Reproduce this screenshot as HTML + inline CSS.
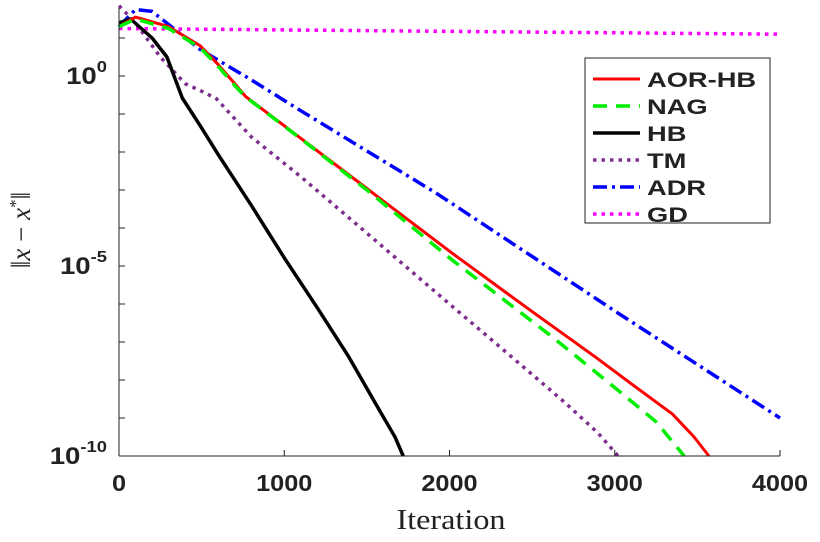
<!DOCTYPE html>
<html><head><meta charset="utf-8">
<style>
body{margin:0;background:#fff;}
svg{display:block;font-family:"Liberation Sans",sans-serif;}
</style></head>
<body>
<svg id="chart" width="820" height="542" viewBox="0 0 820 542">
<rect x="119" y="8" width="661" height="448" fill="#fff"/>
<g id="series"></g>
<g id="axes"></g>
<text transform="translate(451,529) scale(1.15,1)" x="0" y="0" font-family="'Liberation Serif',serif" font-size="28" text-anchor="middle" fill="#222">Iteration</text>
<text transform="translate(30,230) rotate(-90)" font-family="'Liberation Serif',serif" font-size="27" text-anchor="middle" fill="#222">‖<tspan font-style="italic">x</tspan> − <tspan font-style="italic">x</tspan><tspan dy="-9" font-size="17">*</tspan><tspan dy="9">‖</tspan></text>
<g id="legend"></g>
</svg>
<script>
const seriesNames=["AOR-HB","NAG","HB","TM","ADR","GD"];
const aorIt=[0,100,300,490,600,700,766,1100,1500,2015,2500,2884,3100,3350,3480,3570];
const aorVal=[1.3,1.55,1.3,0.8,0.3,-0.2,-0.54,-1.64,-2.96,-4.66,-6.2,-7.4,-8.1,-8.9,-9.5,-10];
const nagIt=[0,100,300,490,600,700,766,1100,1500,2015,2620,3000,3250,3420];
const nagVal=[1.3,1.5,1.25,0.75,0.25,-0.25,-0.55,-1.65,-3.0,-4.84,-6.86,-8.2,-9.1,-10];
const hbIt=[0,70,200,290,383,490,605,800,1008,1200,1392,1550,1670,1720];
const hbVal=[1.4,1.5,1.0,0.5,-0.58,-1.3,-2.1,-3.4,-4.84,-6.1,-7.4,-8.6,-9.5,-10];
const tmIt=[0,100,250,400,524,590,800,1100,1410,2000,2378,2700,2900,3020];
const tmVal=[1.85,1.4,0.5,-0.2,-0.45,-0.6,-1.6,-2.65,-3.8,-6.0,-7.4,-8.6,-9.4,-10];
const adrIt=[0,100,200,490,800,1095,1922,3006,4000];
const adrVal=[1.3,1.75,1.7,0.7,-0.1,-0.9,-3.09,-6.2,-9.0];
const gdIt=[0,4000];
const gdVal=[1.25,1.1];
const xTicks=[0,1000,2000,3000,4000];
const yTicks=[0,-5,-10];
const X0=119,X1=780,Y0dec=76,pxDec=38;
function xs(it){return X0+(X1-X0)*it/4000;}
function ys(l){return Y0dec-pxDec*l;}
const NS="http://www.w3.org/2000/svg";
function el(t,a,p){const e=document.createElementNS(NS,t);for(const k in a)e.setAttribute(k,a[k]);p.appendChild(e);return e;}
const styles=[
 {c:"#ff0000",w:3,d:""},
 {c:"#00ee00",w:3.5,d:"14 9"},
 {c:"#000",w:3.5,d:""},
 {c:"#7e2f8e",w:3.5,d:"3.5 5"},
 {c:"#0000ff",w:3.5,d:"14 5 3 5"},
 {c:"#ff00ff",w:3.5,d:"3.5 5"}];
const data=[[aorIt,aorVal],[nagIt,nagVal],[hbIt,hbVal],[tmIt,tmVal],[adrIt,adrVal],[gdIt,gdVal]];
const sg=document.getElementById("series");
const order=[5,4,3,2,0,1];
order.forEach(i=>{
 const [it,v]=data[i];
 const pts=it.map((t,k)=>xs(t).toFixed(1)+","+ys(v[k]).toFixed(1)).join(" ");
 const p=el("polyline",{points:pts,fill:"none",stroke:styles[i].c,"stroke-width":styles[i].w,"stroke-dasharray":styles[i].d,"stroke-linejoin":"round"},sg);
 
 
});
const ax=document.getElementById("axes");
const yb=ys(-10);
const xl=el("line",{x1:X0,y1:yb,x2:X1,y2:yb,stroke:"#222","stroke-width":1},ax);


const yl=el("line",{x1:X0,y1:8,x2:X0,y2:yb,stroke:"#222","stroke-width":1},ax);


xTicks.forEach(t=>{
 el("line",{x1:xs(t),y1:yb,x2:xs(t),y2:yb-6,stroke:"#222"},ax);
 const tx=el("text",{transform:"translate("+xs(t)+","+(yb+35)+") scale(1.1,1)",x:0,y:0,"font-size":23,"font-weight":"bold","text-anchor":"middle",fill:"#222"},ax);
 tx.textContent=t;
 
 
});
for(let d=1;d>=-10;d--){el("line",{x1:X0,y1:ys(d),x2:X0+6,y2:ys(d),stroke:"#222"},ax);}
yTicks.forEach(t=>{
 const tx=el("text",{transform:"translate(107,"+(ys(t)+8)+") scale(1.15,1)",x:0,y:0,"font-size":24,"font-weight":"bold","text-anchor":"end",fill:"#222"},ax);
 tx.textContent="10";
 
 
 const sp=el("tspan",{dy:-12,"font-size":16},tx);
 sp.textContent=t;
});
const lg=document.getElementById("legend");
const box=el("rect",{x:585,y:58,width:185,height:165,fill:"#fff",stroke:"#222","stroke-width":1},lg);


seriesNames.forEach((n,i)=>{
 const y=79+i*27;
 const ln=el("line",{x1:593,y1:y,x2:640,y2:y,stroke:styles[i].c,"stroke-width":styles[i].w,"stroke-dasharray":styles[i].d},lg);
 
 
 const tx=el("text",{transform:"translate(647,"+(y+8)+") scale(1.3,1)",x:0,y:0,"font-size":21,"font-weight":"bold",fill:"#222"},lg);
 tx.textContent=n;
 
 
});
</script>
</body></html>
